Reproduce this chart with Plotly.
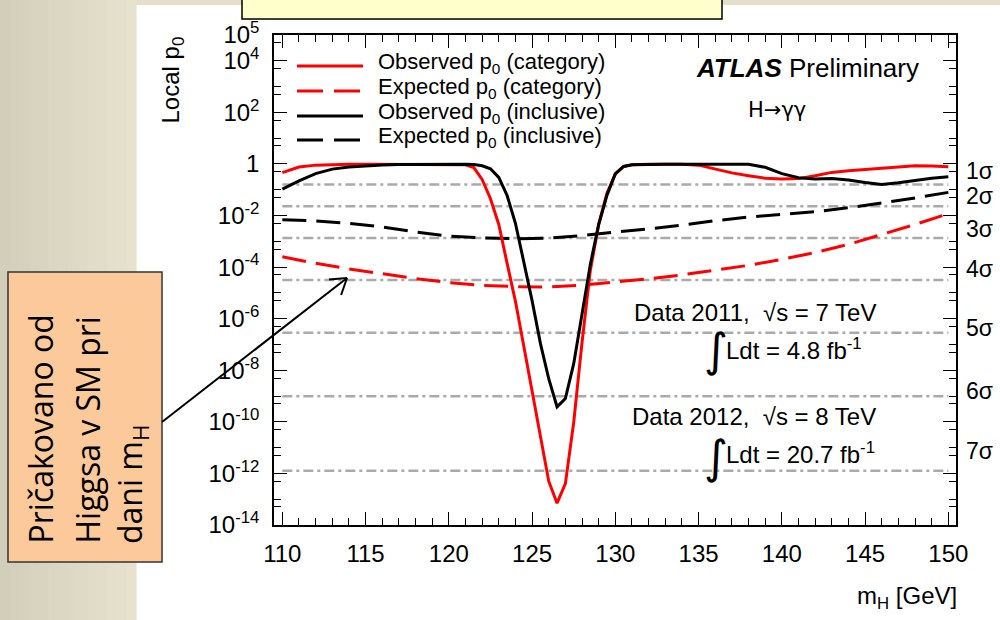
import math
import plotly.graph_objects as go

# ---------------- data ----------------
mass_obs = [110, 111, 112, 113, 114, 115, 116, 117, 118, 119, 120, 121, 121.5, 122, 122.5,
            123, 123.5, 124, 124.5, 125, 125.5, 126, 126.5, 127, 127.5, 128, 128.5, 129,
            129.5, 130, 130.5, 131, 132, 133, 134, 135, 136, 137, 138, 139, 140, 141, 142,
            143, 144, 145, 146, 147, 148, 149, 150]

p0_obs_category = [0.46, 0.76, 0.90, 0.95, 0.97, 0.98, 0.98, 0.98, 0.98, 0.98, 0.97, 0.93, 0.72,
                   0.25, 0.045, 4.5e-3, 1.4e-4, 4.7e-6, 8.7e-8, 1.6e-9, 2.5e-11, 5.0e-13, 7.0e-14,
                   4.0e-13, 9.5e-11, 1.2e-7, 7.6e-5, 4.5e-3, 0.075, 0.40, 0.80, 0.93, 0.97, 0.98,
                   0.97, 0.90, 0.65, 0.45, 0.35, 0.28, 0.26, 0.27, 0.35, 0.47, 0.55, 0.62, 0.68,
                   0.78, 0.85, 0.84, 0.78]

p0_obs_inclusive = [0.105, 0.22, 0.42, 0.63, 0.76, 0.85, 0.91, 0.95, 0.97, 0.98, 0.98, 0.98, 0.95,
                    0.85, 0.65, 0.30, 0.06, 5.0e-3, 1.6e-4, 5.0e-6, 1.1e-7, 4.7e-9, 3.8e-10,
                    8.0e-10, 1.8e-8, 1.6e-6, 1.3e-4, 4.5e-3, 0.062, 0.42, 0.80, 0.93, 0.97, 0.98,
                    0.98, 0.98, 0.98, 0.98, 0.97, 0.74, 0.42, 0.29, 0.26, 0.275, 0.24, 0.19, 0.16,
                    0.185, 0.23, 0.28, 0.32]

mass_exp = [110, 112, 114, 116, 118, 120, 122, 124, 126, 128, 130, 132, 134, 136, 138, 140,
            142, 144, 146, 148, 150]

p0_exp_category = [2.5e-4, 1.4e-4, 8.5e-5, 5.4e-5, 3.6e-5, 2.5e-5, 1.95e-5, 1.75e-5, 1.7e-5,
                   2.0e-5, 2.6e-5, 3.5e-5, 5.0e-5, 7.6e-5, 1.17e-4, 2.0e-4, 3.7e-4, 7.6e-4,
                   1.8e-3, 4.5e-3, 1.17e-2]

p0_exp_inclusive = [6.8e-3, 6.2e-3, 5.0e-3, 3.6e-3, 2.3e-3, 1.6e-3, 1.35e-3, 1.26e-3, 1.32e-3,
                    1.66e-3, 2.3e-3, 3.0e-3, 4.2e-3, 6.3e-3, 8.7e-3, 1.1e-2, 1.4e-2, 2.0e-2,
                    3.0e-2, 4.8e-2, 7.9e-2]

sigma_names = ["1σ", "2σ", "3σ", "4σ", "5σ", "6σ", "7σ"]
sigma_p = [0.1587, 0.02275, 1.35e-3, 3.17e-5, 2.87e-7, 9.87e-10, 1.28e-12]
sigma_label_p = [0.52, 0.058, 3.0e-3, 8.5e-5, 4.4e-7, 1.6e-9, 7.4e-12]
sigma_line_mass = [110, 150]

x_tick_vals = [110, 115, 120, 125, 130, 135, 140, 145, 150]
y_tick_vals = [1e5, 1e4, 1e2, 1, 1e-2, 1e-4, 1e-6, 1e-8, 1e-10, 1e-12, 1e-14]
y_tick_text = ["10<sup>5</sup>", "10<sup>4</sup>", "10<sup>2</sup>", "1", "10<sup>-2</sup>",
               "10<sup>-4</sup>", "10<sup>-6</sup>", "10<sup>-8</sup>", "10<sup>-10</sup>",
               "10<sup>-12</sup>", "10<sup>-14</sup>"]
y_minor_vals = [1e3, 1e1, 1e-1, 1e-3, 1e-5, 1e-7, 1e-9, 1e-11, 1e-13,
                5e4, 5e3, 5e2, 5e1, 5, 0.5, 5e-2, 5e-3, 5e-4, 5e-5, 5e-6, 5e-7, 5e-8, 5e-9,
                5e-10, 5e-11, 5e-12, 5e-13, 5e-14]

legend_names = ["Observed p<sub>0</sub> (category)", "Expected p<sub>0</sub> (category)",
                "Observed p<sub>0</sub> (inclusive)", "Expected p<sub>0</sub> (inclusive)"]

# ---------------- layout helpers ----------------
W, H = 1000, 620
L, R, T, B = 274, 44, 35, 95
PW, PH = W - L - R, H - T - B


def px(X):
    return (X - L) / PW


def py(Y):
    return (H - B - Y) / PH


FONT = "Liberation Sans, Arial, Helvetica, sans-serif"
RED = "#ff0000"
BLACK = "#000000"
GRAY = "#aaaaaa"
SOLID_W = 3
DASH = "24px,10px"

fig = go.Figure()

# sigma reference lines
for p in sigma_p:
    fig.add_trace(go.Scatter(x=sigma_line_mass, y=[p, p], mode="lines",
                             line=dict(color=GRAY, width=2.5, dash="10px,4px,3px,4px"),
                             showlegend=False, hoverinfo="skip"))

fig.add_trace(go.Scatter(x=mass_exp, y=p0_exp_category, mode="lines", name="Expected p0 (category)",
                         line=dict(color=RED, width=SOLID_W, dash=DASH), showlegend=False))
fig.add_trace(go.Scatter(x=mass_exp, y=p0_exp_inclusive, mode="lines", name="Expected p0 (inclusive)",
                         line=dict(color=BLACK, width=SOLID_W, dash=DASH), showlegend=False))
fig.add_trace(go.Scatter(x=mass_obs, y=p0_obs_category, mode="lines", name="Observed p0 (category)",
                         line=dict(color=RED, width=SOLID_W), showlegend=False))
fig.add_trace(go.Scatter(x=mass_obs, y=p0_obs_inclusive, mode="lines", name="Observed p0 (inclusive)",
                         line=dict(color=BLACK, width=SOLID_W), showlegend=False))

shapes = []
# slide background: white panel and left gradient strip
shapes.append(dict(type="rect", xref="paper", yref="paper", layer="below",
                   x0=px(136), x1=px(1000), y0=py(620), y1=py(5),
                   fillcolor="white", line=dict(width=0)))
n_strips = 14
c0 = (0xd2, 0xce, 0xba)
c1 = (0xe6, 0xe2, 0xcd)
for i in range(n_strips):
    f = i / (n_strips - 1)
    col = "rgb(%d,%d,%d)" % tuple(round(a + (b - a) * f) for a, b in zip(c0, c1))
    x0 = 136 * i / n_strips
    x1 = 136 * (i + 1) / n_strips + 0.6
    shapes.append(dict(type="rect", xref="paper", yref="paper", layer="below",
                       x0=px(x0), x1=px(x1), y0=py(620), y1=py(0),
                       fillcolor=col, line=dict(width=0)))
# yellow title box (cut at top)
shapes.append(dict(type="rect", xref="paper", yref="paper", layer="above",
                   x0=px(242), x1=px(722), y0=py(19), y1=py(-10),
                   fillcolor="#ffffcc", line=dict(color="black", width=1.5)))
# orange callout box
shapes.append(dict(type="rect", xref="paper", yref="paper", layer="above",
                   x0=px(8), x1=px(162), y0=py(562), y1=py(272),
                   fillcolor="#fcc99b", line=dict(color="#333333", width=1.5)))
# arrow from callout to expected curve
tail = (162, 422)
tip = (347, 278)
shapes.append(dict(type="line", xref="paper", yref="paper", layer="above",
                   x0=px(tail[0]), y0=py(tail[1]), x1=px(tip[0]), y1=py(tip[1]),
                   line=dict(color="black", width=2)))
dx, dy = tail[0] - tip[0], tail[1] - tip[1]
ln = math.hypot(dx, dy)
ux, uy = dx / ln, dy / ln
for ang in (33, -33):
    a = math.radians(ang)
    rx = ux * math.cos(a) - uy * math.sin(a)
    ry = ux * math.sin(a) + uy * math.cos(a)
    shapes.append(dict(type="line", xref="paper", yref="paper", layer="above",
                       x0=px(tip[0]), y0=py(tip[1]), x1=px(tip[0] + 18 * rx), y1=py(tip[1] + 18 * ry),
                       line=dict(color="black", width=2)))
# legend line samples
leg_y = [66, 91, 116, 140]
leg_col = [RED, RED, BLACK, BLACK]
leg_dash = ["solid", "26px,11px", "solid", "26px,11px"]
for yy, c, d in zip(leg_y, leg_col, leg_dash):
    shapes.append(dict(type="line", xref="paper", yref="paper", layer="above",
                       x0=px(297), x1=px(363), y0=py(yy), y1=py(yy),
                       line=dict(color=c, width=3, dash=d)))

annotations = []
for name, yy in zip(legend_names, [63, 88, 113, 137]):
    annotations.append(dict(xref="paper", yref="paper", x=px(376), y=py(yy), text=name,
                            showarrow=False, xanchor="left", yanchor="middle",
                            font=dict(family=FONT, size=22, color="black")))
annotations.append(dict(xref="paper", yref="paper", x=px(921), y=py(68),
                        text="<b><i>ATLAS</i></b> Preliminary", showarrow=False,
                        xanchor="right", yanchor="middle",
                        font=dict(family=FONT, size=26, color="black")))
annotations.append(dict(xref="paper", yref="paper", x=px(777), y=py(110),
                        text="H→γγ", showarrow=False, xanchor="center", yanchor="middle",
                        font=dict(family="DejaVu Sans, sans-serif", size=21, color="black")))
# luminosity texts
annotations.append(dict(xref="paper", yref="paper", x=px(878), y=py(312),
                        text="Data 2011,  √s = 7 TeV", showarrow=False,
                        xanchor="right", yanchor="middle",
                        font=dict(family=FONT, size=24, color="black")))
annotations.append(dict(xref="paper", yref="paper", x=px(724), y=py(349),
                        text="Ldt = 4.8 fb<sup>-1</sup>", showarrow=False,
                        xanchor="left", yanchor="middle",
                        font=dict(family=FONT, size=24, color="black")))
annotations.append(dict(xref="paper", yref="paper", x=px(878), y=py(416),
                        text="Data 2012,  √s = 8 TeV", showarrow=False,
                        xanchor="right", yanchor="middle",
                        font=dict(family=FONT, size=24, color="black")))
annotations.append(dict(xref="paper", yref="paper", x=px(724), y=py(453),
                        text="Ldt = 20.7 fb<sup>-1</sup>", showarrow=False,
                        xanchor="left", yanchor="middle",
                        font=dict(family=FONT, size=24, color="black")))
for yy in (350, 457):
    annotations.append(dict(xref="paper", yref="paper", x=px(716), y=py(yy),
                            text="∫", showarrow=False, xanchor="center", yanchor="middle",
                            font=dict(family="DejaVu Sans", size=46, color="black")))
# sigma labels
for name, p in zip(sigma_names, sigma_label_p):
    annotations.append(dict(xref="paper", yref="y", x=px(964), y=math.log10(p),
                            text=name, showarrow=False, xanchor="left", yanchor="middle",
                            font=dict(family=FONT, size=23, color="black")))
# axis titles
annotations.append(dict(xref="paper", yref="paper", x=px(172), y=1.0,
                        text="Local p<sub>0</sub>", showarrow=False, textangle=-90,
                        xanchor="center", yanchor="top",
                        font=dict(family=FONT, size=24, color="black")))
annotations.append(dict(xref="paper", yref="paper", x=px(959), y=py(597),
                        text="m<sub>H</sub> [GeV]", showarrow=False,
                        xanchor="right", yanchor="middle",
                        font=dict(family=FONT, size=24, color="black")))
# callout text (Slovenian)
callout_lines = ["Pričakovano od", "Higgsa v SM pri", "dani m<sub>H</sub>"]
for txt, xc in zip(callout_lines, [40, 87, 132]):
    annotations.append(dict(xref="paper", yref="paper", x=px(xc), y=py(546),
                            text=txt, showarrow=False, textangle=-90,
                            xanchor="center", yanchor="bottom",
                            font=dict(family="Open Sans, sans-serif", size=32, color="black")))

fig.update_layout(
    width=W, height=H,
    margin=dict(l=L, r=R, t=T, b=B),
    paper_bgcolor="#e3dfca",
    plot_bgcolor="white",
    shapes=shapes,
    annotations=annotations,
    showlegend=False,
    xaxis=dict(range=[109.5, 150.46], tickmode="array", tickvals=x_tick_vals,
               ticks="inside", ticklen=13, tickwidth=1, tickcolor="black",
               minor=dict(ticks="inside", dtick=1, tick0=110, ticklen=7, tickcolor="black"),
               showline=True, linecolor="black", linewidth=1.5, mirror="allticks",
               showgrid=False, zeroline=False, ticklabelstandoff=6,
               tickfont=dict(family=FONT, size=24, color="black")),
    yaxis=dict(type="log", range=[-14, 5], tickmode="array", tickvals=y_tick_vals,
               ticktext=y_tick_text, ticks="inside", ticklen=13, tickwidth=1, tickcolor="black",
               minor=dict(ticks="inside", tickmode="array", tickvals=y_minor_vals, ticklen=7,
                          tickcolor="black"),
               showline=True, linecolor="black", linewidth=1.5, mirror="allticks",
               showgrid=False, zeroline=False, ticklabelstandoff=8,
               tickfont=dict(family=FONT, size=24, color="black")),
)

fig.write_html("out.html", config={"displayModeBar": False},
               post_script="document.body.style.margin='0';document.body.style.overflow='hidden';")
